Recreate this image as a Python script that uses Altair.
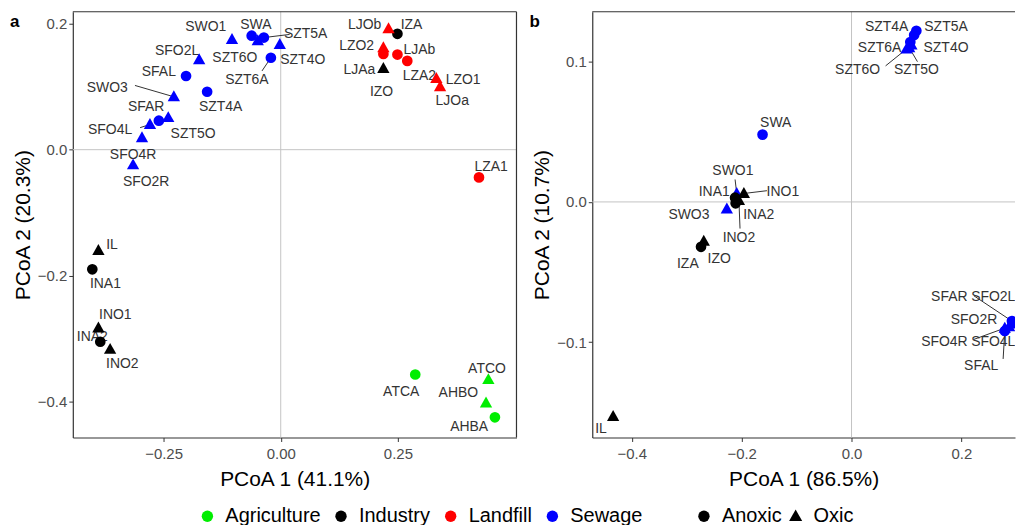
import altair as alt
import pandas as pd

FONT = "Liberation Sans"
GROUPS = ["Agriculture", "Industry", "Landfill", "Sewage"]
GROUP_COLORS = ["#00EE00", "#000000", "#FF0000", "#0000FF"]
STATES = ["Anoxic", "Oxic"]
BORDER = "#333333"
TRI = "M0,-1.2L1.15,0.85L-1.15,0.85Z"

# ---------------- Panel a ----------------
a_names = ["SWO1", "SWA", "SZT5A", "SZT4O", "SZT6O", "SZT6A", "SFO2L", "SFAL", "SWO3", "SZT4A",
           "SFAR", "SZT5O", "SFO4L", "SFO4R", "SFO2R",
           "IZA", "IZO", "IL", "INA1", "INO1", "INA2", "INO2",
           "LJOb", "LZO2", "LJAa", "LJAb", "LZA2", "LZO1", "LJOa", "LZA1",
           "ATCA", "ATCO", "AHBO", "AHBA"]
a_group = ["Sewage"] * 15 + ["Industry"] * 7 + ["Landfill"] * 8 + ["Agriculture"] * 4
a_state = ["Oxic", "Anoxic", "Anoxic", "Oxic", "Oxic", "Anoxic", "Oxic", "Anoxic", "Oxic", "Anoxic",
           "Anoxic", "Oxic", "Oxic", "Oxic", "Oxic",
           "Anoxic", "Oxic", "Oxic", "Anoxic", "Oxic", "Anoxic", "Oxic",
           "Oxic", "Oxic", "Anoxic", "Anoxic", "Anoxic", "Oxic", "Oxic", "Anoxic",
           "Anoxic", "Oxic", "Oxic", "Anoxic"]
a_x = [-0.104, -0.062, -0.036, -0.002, -0.049, -0.021, -0.174, -0.202, -0.228, -0.157,
       -0.260, -0.240, -0.279, -0.296, -0.315,
       0.249, 0.219, -0.389, -0.402, -0.389, -0.385, -0.364,
       0.230, 0.219, 0.219, 0.249, 0.270, 0.332, 0.340, 0.423,
       0.287, 0.443, 0.438, 0.457]
a_y = [0.175, 0.181, 0.178, 0.167, 0.173, 0.146, 0.143, 0.117, 0.084, 0.092,
       0.046, 0.051, 0.040, 0.019, -0.024,
       0.184, 0.129, -0.160, -0.190, -0.283, -0.305, -0.317,
       0.192, 0.162, 0.152, 0.151, 0.141, 0.113, 0.100, -0.044,
       -0.357, -0.365, -0.402, -0.425]
a_lx = [-0.160, -0.053, 0.053, 0.047, -0.098, -0.072, -0.221, -0.260, -0.370, -0.128,
        -0.287, -0.187, -0.364, -0.315, -0.287,
        0.279, 0.215, -0.360, -0.374, -0.353, -0.402, -0.338,
        0.179, 0.162, 0.168, 0.296, 0.296, 0.389, 0.366, 0.449,
        0.257, 0.440, 0.379, 0.402]
a_ly = [0.195, 0.198, 0.183, 0.143, 0.146, 0.111, 0.157, 0.124, 0.098, 0.068,
        0.067, 0.025, 0.032, -0.008, -0.051,
        0.198, 0.092, -0.151, -0.214, -0.262, -0.298, -0.341,
        0.198, 0.165, 0.127, 0.159, 0.117, 0.111, 0.078, -0.027,
        -0.384, -0.348, -0.386, -0.441]
a_seg_names = ["SZT5A", "SZT6A", "SWO3", "SFO4L"]
a_seg_ex = [0.019, -0.040, -0.311, -0.300]
a_seg_ey = [0.183, 0.125, 0.102, 0.035]

# ---------------- Panel b ----------------
b_names = ["SZT4A", "SZT5A", "SZT6A", "SZT4O", "SZT6O", "SZT5O", "SWA", "SWO1", "SWO3",
           "SFAR", "SFO2L", "SFO2R", "SFO4L", "SFO4R", "SFAL",
           "INA1", "INO1", "INA2", "INO2", "IZO", "IZA", "IL"]
b_group = ["Sewage"] * 15 + ["Industry"] * 7
b_state = ["Anoxic", "Anoxic", "Anoxic", "Oxic", "Oxic", "Oxic", "Anoxic", "Oxic", "Oxic",
           "Anoxic", "Oxic", "Oxic", "Oxic", "Oxic", "Anoxic",
           "Anoxic", "Oxic", "Anoxic", "Oxic", "Oxic", "Anoxic", "Oxic"]
b_x = [0.118, 0.114, 0.107, 0.109, 0.100, 0.105, -0.162, -0.209, -0.227,
       0.292, 0.301, 0.290, 0.287, 0.279, 0.279,
       -0.212, -0.196, -0.211, -0.205, -0.269, -0.274, -0.434]
b_y = [0.122, 0.119, 0.114, 0.112, 0.109, 0.110, 0.048, 0.006, -0.005,
       -0.085, -0.084, -0.087, -0.089, -0.090, -0.092,
       0.003, 0.006, -0.001, 0.001, -0.028, -0.032, -0.153]
b_lx = [0.064, 0.172, 0.051, 0.172, 0.011, 0.118, -0.138, -0.216, -0.296,
        0.178, 0.258, 0.223, 0.258, 0.169, 0.236,
        -0.250, -0.125, -0.169, -0.205, -0.241, -0.298, -0.456]
b_ly = [0.125, 0.125, 0.110, 0.110, 0.094, 0.094, 0.056, 0.022, -0.009,
        -0.068, -0.068, -0.084, -0.100, -0.100, -0.117,
        0.007, 0.007, -0.009, -0.026, -0.041, -0.044, -0.162]
b_seg_names = ["SZT6O", "SZT5O", "SWO1", "SFAR", "SFO4R", "SFAL", "INO1", "INO2"]
b_seg_ex = [0.062, 0.120, -0.212, 0.223, 0.223, 0.276, -0.154, -0.203]
b_seg_ey = [0.097, 0.100, 0.016, -0.067, -0.098, -0.112, 0.008, -0.019]


def make_panel(names, group, state, xs_, ys_, lx, ly, seg_names, seg_ex, seg_ey,
               xdom, ydom, xticks, yticks, xfmt, xtitle, ytitle, letter, width, right_border, clip):
    df = pd.DataFrame({"name": names, "group": group, "state": state,
                       "x": xs_, "y": ys_, "lx": lx, "ly": ly})
    pos = {n: (xv, yv) for n, xv, yv in zip(names, xs_, ys_)}
    sdf = pd.DataFrame({"name": seg_names,
                        "x": [pos[n][0] for n in seg_names],
                        "y": [pos[n][1] for n in seg_names],
                        "ex": seg_ex, "ey": seg_ey})
    xsc = alt.Scale(domain=xdom, nice=False, zero=False)
    ysc = alt.Scale(domain=ydom, nice=False, zero=False)
    xax = alt.Axis(values=xticks, format=xfmt, title=xtitle)
    yax = alt.Axis(values=yticks, format=".1f", title=ytitle)

    vline = alt.Chart(pd.DataFrame({"v": [0.0]})).mark_rule(
        color="#C4C4C4", strokeWidth=1).encode(x=alt.X("v:Q", scale=xsc, axis=xax))
    hline = alt.Chart(pd.DataFrame({"v": [0.0]})).mark_rule(
        color="#C4C4C4", strokeWidth=1).encode(y=alt.Y("v:Q", scale=ysc, axis=yax))
    segs = alt.Chart(sdf).mark_rule(color="#333333", strokeWidth=1, clip=clip).encode(
        x=alt.X("x:Q", scale=xsc), y=alt.Y("y:Q", scale=ysc), x2="ex:Q", y2="ey:Q")
    labels = alt.Chart(df).mark_text(font=FONT, fontSize=14, color="#333333", clip=clip).encode(
        x=alt.X("lx:Q", scale=xsc), y=alt.Y("ly:Q", scale=ysc), text="name:N")
    pts = alt.Chart(df).mark_point(filled=True, opacity=1, strokeWidth=0, size=115, clip=clip).encode(
        x=alt.X("x:Q", scale=xsc, axis=xax),
        y=alt.Y("y:Q", scale=ysc, axis=yax),
        color=alt.Color("group:N", scale=alt.Scale(domain=GROUPS, range=GROUP_COLORS),
                        legend=alt.Legend(title=None, symbolType="circle", symbolSize=130,
                                          symbolStrokeWidth=0, symbolOpacity=1,
                                          columnPadding=10,
                                          orient="none", legendX=125, legendY=496)),
        shape=alt.Shape("state:N", scale=alt.Scale(domain=STATES, range=["circle", TRI]),
                        legend=alt.Legend(title=None, symbolFillColor="black",
                                          symbolStrokeColor="black", symbolSize=130,
                                          symbolStrokeWidth=0, symbolOpacity=1,
                                          columnPadding=3,
                                          orient="none", legendX=623, legendY=496)),
    )
    top = alt.Chart(pd.DataFrame({"v": [ydom[1]]})).mark_rule(
        color=BORDER, strokeWidth=1.2).encode(y=alt.Y("v:Q", scale=ysc))
    layers = [vline, hline, segs, labels, pts, top]
    if right_border:
        layers.append(alt.Chart(pd.DataFrame({"v": [xdom[1]]})).mark_rule(
            color=BORDER, strokeWidth=1.2).encode(x=alt.X("v:Q", scale=xsc)))
    tag = alt.Chart(pd.DataFrame({"t": [letter]})).mark_text(
        font=FONT, fontSize=17, fontWeight="bold", color="black", align="left").encode(
        x=alt.value(-63), y=alt.value(10), text="t:N")
    layers.append(tag)
    return alt.layer(*layers).properties(width=width, height=427)


pa = make_panel(a_names, a_group, a_state, a_x, a_y, a_lx, a_ly, a_seg_names, a_seg_ex, a_seg_ey,
                [-0.4436, 0.503], [-0.457, 0.219], [-0.25, 0.0, 0.25], [-0.4, -0.2, 0.0, 0.2],
                ".2f", "PCoA 1 (41.1%)", "PCoA 2 (20.3%)", "a", 445, True, False)
pb = make_panel(b_names, b_group, b_state, b_x, b_y, b_lx, b_ly, b_seg_names, b_seg_ex, b_seg_ey,
                [-0.472, 0.2976], [-0.168, 0.1356], [-0.4, -0.2, 0.0, 0.2], [-0.1, 0.0, 0.1],
                ".1f", "PCoA 1 (86.5%)", "PCoA 2 (10.7%)", "b", 424, False, True)

chart = alt.hconcat(pa, pb, spacing=12).resolve_scale(x="independent", y="independent").configure_view(
    stroke=None
).configure_axis(
    grid=False, domain=True, domainColor=BORDER, domainWidth=1.2,
    labelFont=FONT, titleFont=FONT, labelFontSize=15,
    labelColor="#4D4D4D", tickColor="#333333", tickSize=4,
    titleFontSize=21, titleFontWeight="normal", titleColor="black"
).configure_axisX(
    labelPadding=5, titlePadding=7
).configure_axisY(
    labelPadding=2, titlePadding=4
).configure_legend(
    direction="horizontal", labelFont=FONT, labelFontSize=20,
    labelColor="black", labelOffset=8
).properties(padding={"left": 2, "top": 2, "right": 0, "bottom": 0})

chart.save("out.html", embed_options={"renderer": "svg", "actions": False})
